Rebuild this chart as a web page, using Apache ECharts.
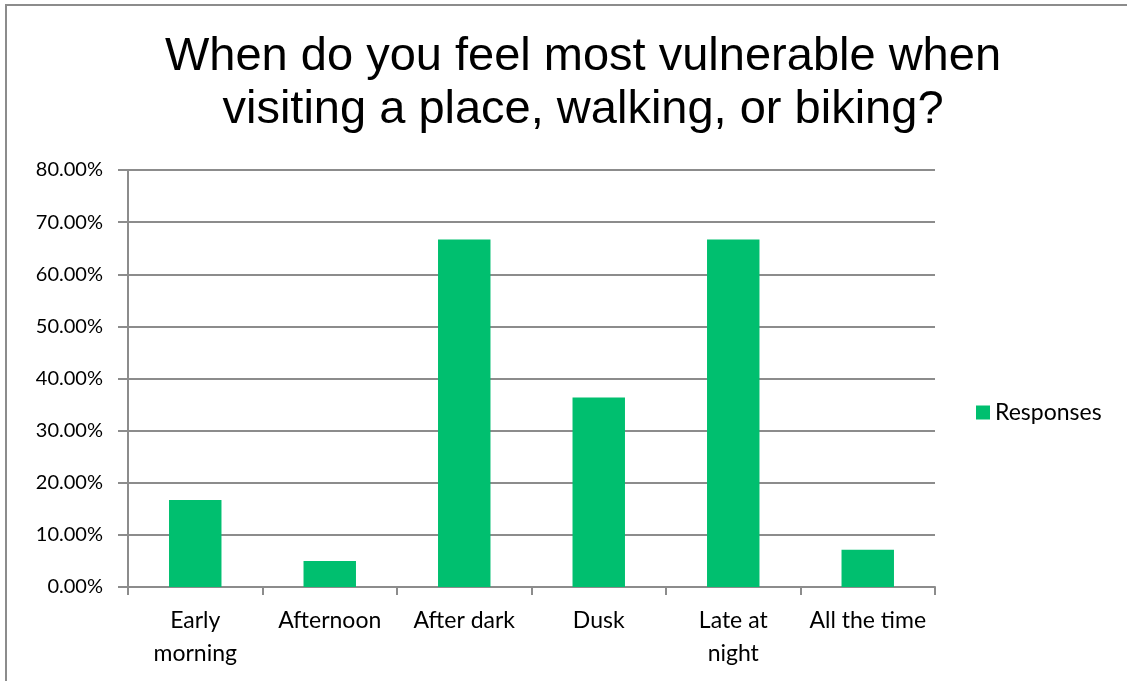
<!DOCTYPE html>
<html>
<head>
<meta charset="utf-8">
<script src="https://cdn.jsdelivr.net/npm/echarts@6/dist/echarts.min.js"></script>
<style>
  html, body { margin: 0; padding: 0; background: #fff; }
  #main { width: 1127px; height: 681px; }
</style>
</head>
<body>
<div id="main"></div>
<script>
let categories = ['Early\nmorning', 'Afternoon', 'After dark', 'Dusk', 'Late at\nnight', 'All the time']
let responses = [0.1667, 0.05, 0.6667, 0.3636, 0.6667, 0.0714]
let yTicks = [0, 0.8, 0.1] // min, max, interval

let _green = '#00bf6f'
let _grid = '#8c8c8c'
let _font = 'Lato, "Open Sans", sans-serif'

let chart = echarts.init(document.getElementById('main'), null, { renderer: 'canvas' })
let option = {
  backgroundColor: '#fff',
  animation: false,
  graphic: [{
    // outer frame of the slide chart (only left and top are visible)
    type: 'rect',
    shape: { x: 6, y: 5, width: 1300, height: 900 },
    style: { fill: 'none', stroke: '#8c8c8c', lineWidth: 2 },
    silent: true
  }],
  title: {
    text: 'When do you feel most vulnerable when\nvisiting a place, walking, or biking?',
    left: 578,
    top: 26,
    textAlign: 'center',
    textStyle: {
      fontFamily: '"Liberation Sans", Arial, sans-serif',
      fontWeight: 'normal',
      fontSize: 47,
      lineHeight: 53,
      color: '#000'
    }
  },
  legend: {
    data: ['Responses'],
    orient: 'vertical',
    left: 971,
    top: 396,
    icon: 'rect',
    itemWidth: 14,
    itemHeight: 14,
    itemGap: 8,
    textStyle: { fontFamily: _font, fontSize: 23, color: '#000' }
  },
  grid: {
    left: 128,
    right: 192,
    top: 170,
    bottom: 94,
    containLabel: false
  },
  xAxis: {
    type: 'category',
    data: categories,
    boundaryGap: true,
    axisLine: { lineStyle: { color: _grid, width: 2 } },
    axisTick: { show: true, length: 8, alignWithLabel: false, lineStyle: { color: _grid, width: 2 } },
    axisLabel: {
      interval: 0,
      margin: 17,
      fontFamily: _font,
      fontSize: 23,
      lineHeight: 33,
      color: '#000'
    }
  },
  yAxis: {
    type: 'value',
    min: yTicks[0],
    max: yTicks[1],
    interval: yTicks[2],
    axisLine: { show: true, lineStyle: { color: _grid, width: 2 } },
    axisTick: { show: true, length: 10, lineStyle: { color: _grid, width: 2 } },
    splitLine: { show: true, lineStyle: { color: _grid, width: 2 } },
    axisLabel: {
      margin: 25,
      fontFamily: _font,
      fontSize: 20,
      color: '#000',
      formatter: function (v) { return (v * 100).toFixed(2) + '%' }
    }
  },
  series: [{
    name: 'Responses',
    type: 'bar',
    data: responses,
    barWidth: '39%',
    itemStyle: { color: _green }
  }]
}
chart.setOption(option)
</script>
</body>
</html>
